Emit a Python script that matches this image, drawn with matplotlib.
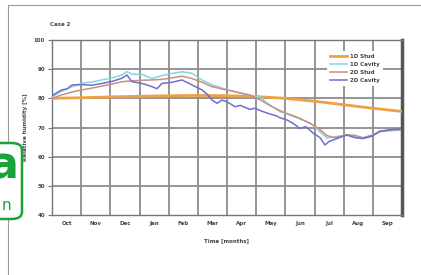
import matplotlib
matplotlib.use("Agg")
import matplotlib.pyplot as plt
from matplotlib.patches import FancyBboxPatch
from matplotlib.lines import Line2D

months = ["Oct", "Nov", "Dec", "Jan", "Feb", "Mar", "Apr", "May", "Jun", "Jul", "Aug", "Sep"]
yticks = [40, 50, 60, 70, 80, 90, 100]

t_1d_stud = [0, 1, 2, 3, 4, 5, 6, 7, 8, 9, 10, 11, 12]
v_1d_stud = [80.0, 80.2, 80.5, 80.7, 80.9, 81.0, 80.9, 80.6, 80.0, 79.0, 77.8, 76.6, 75.5]

t_1d_cav = [0, 0.34, 0.69, 1.03, 1.37, 1.71, 2.06, 2.4, 2.57, 2.74, 3.09, 3.43, 3.77, 4.11,
            4.46, 4.8, 5.14, 5.49, 6.0, 6.45, 6.79, 7.13, 7.37, 7.82, 8.16, 8.5, 8.95, 9.19,
            9.43, 9.7, 10.11, 10.39, 10.66, 10.97, 11.24, 11.59, 11.93]
v_1d_cav = [80.5, 82.5, 84.0, 85.2, 85.6, 86.3, 87.0, 88.0, 89.2, 88.3, 88.2, 86.8, 87.8, 88.5,
            89.1, 88.6, 86.3, 84.6, 83.0, 81.8, 81.1, 80.5, 78.4, 75.4, 74.5, 73.2, 70.9, 68.5,
            66.4, 66.8, 67.4, 66.9, 66.4, 67.5, 68.6, 68.9, 69.1]

t_2d_stud = [0, 0.34, 0.69, 1.03, 1.37, 1.71, 2.06, 2.4, 2.74, 3.09, 3.43, 3.77, 4.11, 4.46,
             4.8, 5.14, 5.49, 5.83, 6.17, 6.79, 7.13, 7.48, 7.82, 8.16, 8.5, 8.84, 9.19, 9.43,
             9.7, 10.11, 10.39, 10.66, 10.97, 11.24, 11.59, 11.93]
v_2d_stud = [80.0, 81.2, 82.2, 82.9, 83.5, 84.2, 84.9, 85.7, 86.0, 86.2, 86.3, 86.5, 87.0, 87.6,
             86.8, 85.5, 84.0, 83.2, 82.5, 81.1, 79.5, 77.5, 75.8, 74.3, 73.0, 71.5, 69.3, 67.2,
             66.5, 67.5, 67.3, 66.5, 67.2, 68.8, 69.2, 69.3]

t_2d_cav = [0, 0.17, 0.34, 0.51, 0.69, 1.03, 1.37, 1.71, 2.06, 2.4, 2.57, 2.74, 3.09, 3.43,
            3.6, 3.77, 4.11, 4.46, 4.8, 5.14, 5.31, 5.49, 5.66, 5.83, 6.0, 6.28, 6.45, 6.79,
            6.96, 7.22, 7.48, 7.7, 7.82, 8.05, 8.27, 8.5, 8.7, 8.95, 9.19, 9.36, 9.5, 9.87,
            10.11, 10.39, 10.66, 10.97, 11.24, 11.59, 11.93]
v_2d_cav = [80.8, 82.0, 82.9, 83.2, 84.6, 84.7, 84.5, 85.1, 85.8, 86.9, 88.0, 85.7, 85.1, 84.0,
            83.3, 85.1, 85.5, 86.3, 84.6, 82.9, 81.5, 79.4, 78.3, 79.4, 78.8, 77.1, 77.6, 76.2,
            76.6, 75.5, 74.6, 74.0, 73.3, 72.6, 71.4, 69.7, 70.3, 68.1, 66.5, 64.0, 65.2, 66.6,
            67.4, 66.5, 66.2, 67.0, 68.6, 69.2, 69.5]

labels = ["1D Stud", "1D Cavity", "2D Stud", "2D Cavity"]
colors = ["#f0a043", "#86d4e2", "#c98e80", "#6f6fcf"]

W, H = 421, 275
fig = plt.figure(figsize=(W / 100, H / 100), dpi=100)
fig.patch.set_facecolor("white")

# page frame
fig.add_artist(Line2D([8 / W, 8 / W], [0, 1 - 5 / H], color="#9a9a9a", lw=0.8))
fig.add_artist(Line2D([8 / W, 1], [1 - 5 / H, 1 - 5 / H], color="#9a9a9a", lw=0.8))

ax = fig.add_axes([52 / W, 1 - 215 / H, 350 / W, 175 / H])
ax.set_xlim(0, 12)
ax.set_ylim(40, 100)

for m in range(1, 12):
    ax.axvline(m, color="#8c8c8c", lw=1.3, zorder=1)
for y in yticks[1:]:
    ax.axhline(y, color="#8c8c8c", lw=1.3, zorder=1)

ax.plot(t_1d_stud, v_1d_stud, color=colors[0], lw=2.0, zorder=3, label=labels[0])
ax.plot(t_1d_cav, v_1d_cav, color=colors[1], lw=1.1, zorder=4, label=labels[1])
ax.plot(t_2d_stud, v_2d_stud, color=colors[2], lw=1.1, zorder=4, label=labels[2])
ax.plot(t_2d_cav, v_2d_cav, color=colors[3], lw=1.1, zorder=5, label=labels[3])

ax.set_xticks([m + 0.5 for m in range(12)])
ax.set_xticklabels(months)
ax.set_yticks(yticks)
ax.set_yticklabels([str(v) for v in yticks])
ax.tick_params(axis="x", length=0, pad=4, labelsize=4, labelcolor="#444444")
ax.tick_params(axis="y", length=3, width=0.8, color="#777777", pad=2, labelsize=4, labelcolor="#444444")
for lab in ax.get_xticklabels() + ax.get_yticklabels():
    lab.set_fontweight("bold")

for s in ["left", "bottom", "top"]:
    ax.spines[s].set_color("#777777")
    ax.spines[s].set_linewidth(1.0)
ax.spines["right"].set_color("#555555")
ax.spines["right"].set_linewidth(2.5)

leg = ax.legend(loc="upper right", bbox_to_anchor=(0.955, 0.955), fontsize=4, frameon=True,
                handlelength=3, handletextpad=0.6, labelspacing=0.55, borderpad=0.6)
leg.get_frame().set_edgecolor("none")
leg.get_frame().set_facecolor("white")
leg.get_frame().set_alpha(1)
for txt in leg.get_texts():
    txt.set_fontweight("bold")
    txt.set_color("#444444")

ax.set_xlabel("Time [months]", fontsize=4, fontweight="bold", color="#444444", labelpad=9)
ax.set_ylabel("Relative humidity [%]", fontsize=4, fontweight="bold", color="#444444")
ax.yaxis.set_label_coords((28 - 52) / 350, 0.5)
fig.text(50 / W, 1 - 25 / H, "Case 2", fontsize=4, fontweight="bold", color="#444444",
         ha="left", va="center")

# green label box, partially cut off at left
box = FancyBboxPatch((-30 / W, 1 - 219 / H), 52 / W, 76 / H,
                     boxstyle="round,pad=0,rounding_size=0.025",
                     transform=fig.transFigure, facecolor="white", edgecolor="#1aa33a",
                     lw=1.8, zorder=10)
fig.add_artist(box)
fig.text(18 / W, 1 - 166 / H, "a", fontsize=32, fontweight="bold", color="#1aa33a",
         ha="right", va="center", zorder=11)
fig.text(11 / W, 1 - 206 / H, "n", fontsize=11, color="#1aa33a",
         ha="right", va="center", zorder=11)

fig.savefig("out.png", dpi=100)
